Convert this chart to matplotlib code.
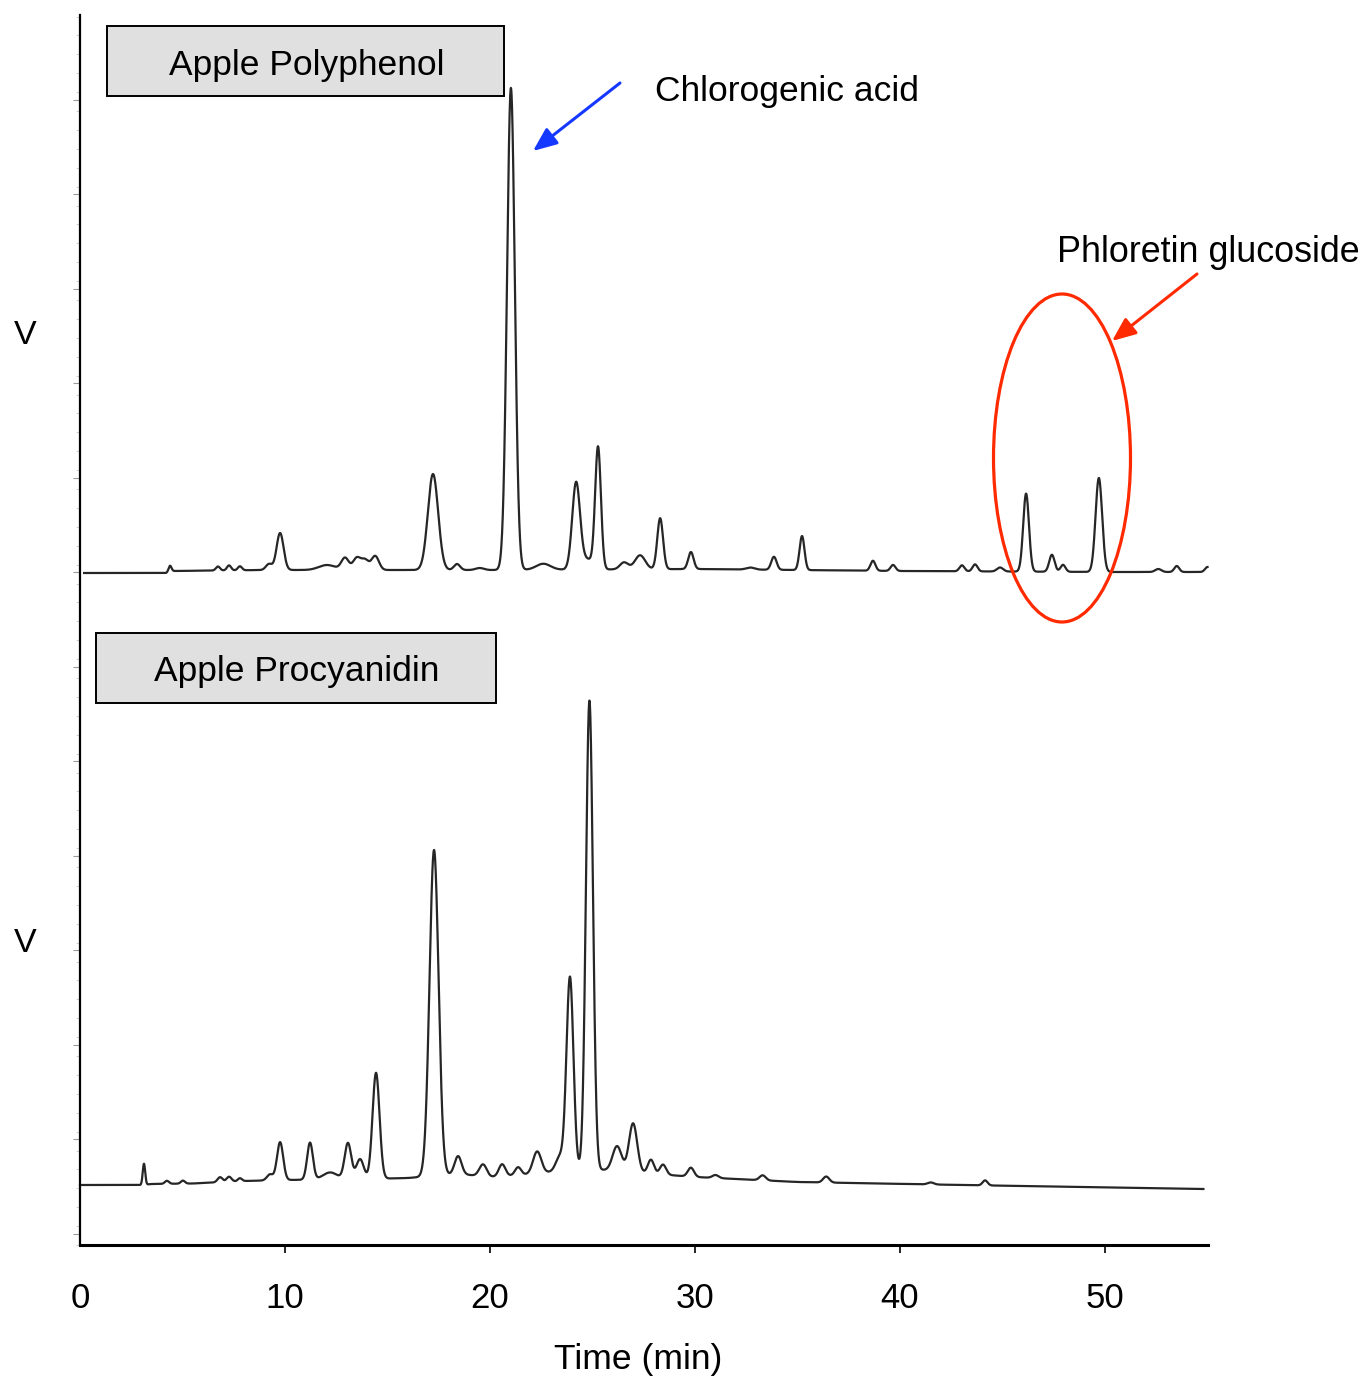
import numpy as np
import matplotlib
matplotlib.use("Agg")
import matplotlib.pyplot as plt
from matplotlib.patches import Rectangle, Ellipse, FancyArrowPatch
from matplotlib.ticker import MultipleLocator

plt.rcParams['font.family'] = ['Liberation Sans', 'DejaVu Sans']

# ---------------- data ----------------
# Apple Polyphenol: peak retention times (min), heights and widths (signal units)
poly_rt = [4.39, 6.73, 7.27, 7.8, 9.22, 9.76, 12.05, 12.93, 13.5, 13.9, 14.4, 17.22,
           18.39, 19.5, 21.02, 22.6, 24.2, 24.75, 25.27, 26.54, 27.32, 28.3, 29.8,
           32.7, 33.85, 35.22, 38.68, 39.66, 43.02, 43.66, 44.88, 46.15, 47.41, 47.95,
           49.7, 52.6, 53.5, 55.0]
poly_height = [6, 4, 5, 4, 6, 37, 5, 12, 12, 10, 14, 96,
               6, 2, 482, 6, 86, 10, 121, 7, 14, 51, 17,
               2, 13, 34, 10, 6, 6, 7, 4, 78, 17, 7,
               94, 3, 6, 5]
poly_width = [0.07, 0.1, 0.1, 0.1, 0.15, 0.17, 0.4, 0.18, 0.18, 0.18, 0.18, 0.25,
              0.15, 0.2, 0.19, 0.35, 0.19, 0.3, 0.14, 0.2, 0.25, 0.14, 0.13,
              0.2, 0.13, 0.12, 0.12, 0.12, 0.12, 0.12, 0.15, 0.14, 0.13, 0.12,
              0.16, 0.15, 0.12, 0.12]
poly_base_t = [0.2, 4.2, 4.5, 9.0, 20.0, 30.0, 40.0, 50.0, 55.0]
poly_base_v = [672, 672, 674, 675, 675, 676, 674, 673, 673]

# Apple Procyanidin
proc_rt = [3.12, 4.24, 5.02, 6.83, 7.27, 7.8, 9.27, 9.76, 11.22, 12.2, 13.07, 13.66,
           14.44, 17.27, 18.44, 19.66, 20.59, 21.37, 22.3, 23.41, 23.9, 24.85, 26.2,
           26.98, 27.85, 28.44, 29.8, 31.0, 33.3, 36.4, 41.5, 44.15]
proc_height = [21, 3, 3, 5, 5, 3, 6, 38, 37, 7, 36, 20,
               106, 326, 18, 12, 12, 8, 22, 15, 194, 470, 25,
               49, 14, 10, 9, 3, 5, 6, 2, 5]
proc_width = [0.06, 0.1, 0.1, 0.12, 0.12, 0.1, 0.15, 0.15, 0.14, 0.35, 0.16, 0.18,
              0.17, 0.22, 0.17, 0.18, 0.16, 0.15, 0.2, 0.2, 0.17, 0.17, 0.22,
              0.2, 0.15, 0.15, 0.15, 0.15, 0.15, 0.15, 0.15, 0.12]
proc_base_t = [0.0, 3.0, 3.5, 5.5, 8.0, 10.0, 14.0, 16.0, 18.5, 20.0, 21.5, 23.0,
               25.5, 30.0, 35.0, 43.0, 54.8]
proc_base_v = [60, 60, 61, 61.5, 64, 65, 66, 67, 71, 68, 70, 73,
               75, 68, 63, 60, 56]

x_ticks = [0, 10, 20, 30, 40, 50]
x_tick_labels = ["0", "10", "20", "30", "40", "50"]


def trace(t, rt, h, w, bt, bv):
    y = np.interp(t, bt, bv)
    for r, hh, ww in zip(rt, h, w):
        y = y + hh * np.exp(-0.5 * ((t - r) / ww) ** 2)
    return y


W, H = 1366, 1378
fig = plt.figure(figsize=(W / 100, H / 100), dpi=100)


def fx(x):
    return x / W


def fy(y):
    return 1 - y / H


ax_left, ax_right, ax_top, ax_bottom = 80, 1207.5, 15, 1245
ax = fig.add_axes([fx(ax_left), fy(ax_bottom), (ax_right - ax_left) / W,
                   (ax_bottom - ax_top) / H])
ax.set_xlim(0, 55)
ax.set_ylim(0, 1230)

t_top = np.linspace(0.2, 55.0, 8000)
t_bot = np.linspace(0.0, 54.8, 8000)
line_col = '#262626'
ax.plot(t_top, trace(t_top, poly_rt, poly_height, poly_width, poly_base_t, poly_base_v),
        color=line_col, lw=1.6, clip_on=False)
ax.plot(t_bot, trace(t_bot, proc_rt, proc_height, proc_width, proc_base_t, proc_base_v),
        color=line_col, lw=1.6, clip_on=False)

for s in ['top', 'right']:
    ax.spines[s].set_visible(False)
ax.spines['left'].set_linewidth(1.6)
ax.spines['bottom'].set_linewidth(2.2)

ax.set_xticks(x_ticks)
ax.set_xticklabels(x_tick_labels, fontsize=25)
ax.tick_params(axis='x', direction='out', length=6, width=1.2, pad=20.5)
ax.xaxis.get_major_ticks()[0].tick1line.set_visible(False)

ax.set_yticks([673 + 94.5 * k for k in range(-7, 6)])
ax.yaxis.set_minor_locator(MultipleLocator(94.5 / 5))
ax.tick_params(axis='y', which='major', direction='out', length=5, width=0.8,
               color='#9a9a9a', labelleft=False)
ax.tick_params(axis='y', which='minor', direction='out', length=3, width=0.6,
               color='#c8c8c8')

# label boxes
for (x0, y0, x1, y1, label) in [(107, 26, 504, 96, "Apple Polyphenol"),
                                (96, 633, 496, 703, "Apple Procyanidin")]:
    fig.add_artist(Rectangle((fx(x0), fy(y1)), (x1 - x0) / W, (y1 - y0) / H,
                             transform=fig.transFigure, facecolor='#e0e0e0',
                             edgecolor='black', lw=1.4))
    fig.text(fx((x0 + x1) / 2 + 1), fy((y0 + y1) / 2 + 4), label, fontsize=25.5,
             ha='center', va='center')

# axis labels
fig.text(fx(25), fy(336), "V", fontsize=24.5, ha='center', va='center')
fig.text(fx(25), fy(944), "V", fontsize=24.5, ha='center', va='center')
fig.text(fx(638), fy(1359), "Time (min)", fontsize=25.5, ha='center', va='center')

# annotations
fig.text(fx(655), fy(91), "Chlorogenic acid", fontsize=25.5, ha='left', va='center')
fig.text(fx(1057), fy(252), "Phloretin glucoside", fontsize=25.8, ha='left', va='center')

blue = '#1438ff'
red = '#ff2a00'
fig.add_artist(FancyArrowPatch((fx(620), fy(83)), (fx(533), fy(151)),
                               transform=fig.transFigure,
                               arrowstyle='-|>,head_length=0.6,head_width=0.25',
                               mutation_scale=24, color=blue, lw=2.2,
                               shrinkA=0, shrinkB=0))
fig.add_artist(FancyArrowPatch((fx(1197), fy(274)), (fx(1112), fy(341)),
                               transform=fig.transFigure,
                               arrowstyle='-|>,head_length=0.6,head_width=0.25',
                               mutation_scale=24, color=red, lw=2.2,
                               shrinkA=0, shrinkB=0))
fig.add_artist(Ellipse((fx(1062), fy(458)), 137 / W, 328 / H,
                       transform=fig.transFigure, fill=False,
                       edgecolor=red, lw=2.3))

fig.savefig("out.png", dpi=100, facecolor='white')
